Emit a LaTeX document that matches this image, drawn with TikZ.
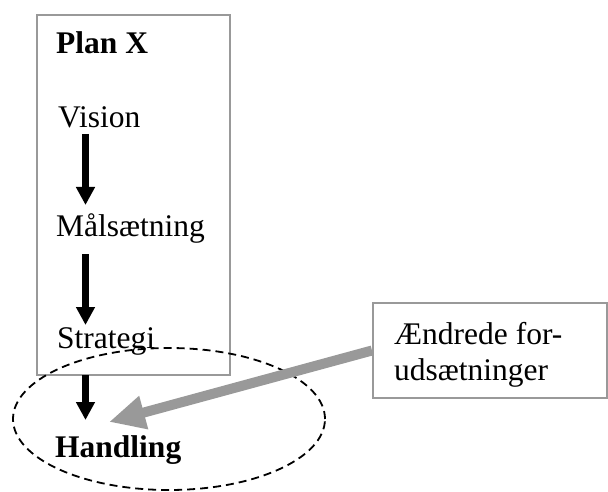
\documentclass[tikz,border=0pt]{standalone}
\usepackage{fontspec}
\setmainfont{Liberation Serif}
\usetikzlibrary{arrows.meta,calc,shapes.geometric}

\definecolor{framegray}{gray}{0.6}

\tikzset{
  txt/.style={font=\fontsize{31.5}{36}\selectfont},
  lbl/.style={txt, inner sep=0pt, anchor=base west},
  frame/.style={draw=framegray, line width=2pt},
  flow/.style={line width=6.5pt, -{Triangle[width=18pt,length=18pt]}},
  influence/.style={draw=framegray, line width=10pt,
    -{Triangle[width=32pt,length=36pt]}},
  focus/.style={draw, dash pattern=on 8pt off 5pt, line width=1.8pt,
    ellipse, inner sep=0pt}
}

\begin{document}
\begin{tikzpicture}[x=1pt, y=-1pt]
  \useasboundingbox (0,0) rectangle (608,492);

  % the plan frame
  \node[frame, anchor=north west, minimum width=193pt, minimum height=360pt,
        inner sep=0pt] (plan) at (36,14) {};

  % steps of the plan
  \node[lbl, font=\fontsize{31.5}{36}\selectfont\bfseries] (title) at (56,54) {Plan X};
  \node[lbl] (vision)   at (58,128) {Vision};
  \node[lbl] (maal)     at (56,236) {Målsætning};
  \node[lbl] (strategi) at (57,348) {Strategi};
  \node[lbl, font=\fontsize{31.5}{36}\selectfont\bfseries] (handling) at (55,457) {Handling};

  % dashed ring around the action
  \node[focus, minimum width=312pt, minimum height=142pt] (ring) at (169,419) {};

  % changed premises box
  \node[frame, anchor=north west, minimum width=234pt, minimum height=95pt,
        inner sep=0pt] (premises) at (372,302) {};
  \node[txt, inner sep=0pt, anchor=north west, align=left] (premtext) at (394,322)
        {Ændrede for-\\udsætninger};

  % downward flow
  \draw[flow] ($(vision.base west)+(27.5,6)$) -- ($(maal.base west)+(29.5,-31)$);
  \draw[flow] ($(maal.base west)+(29.5,18)$) -- ($(strategi.base west)+(28.5,-23)$);
  \draw[flow] ($(strategi.base west)+(28.5,27)$) -- ($(handling.base west)+(30.5,-37)$);

  % influence of changed premises
  \draw[influence] (premises.west) -- ($(handling.base west)+(54,-35)$);
\end{tikzpicture}
\end{document}
